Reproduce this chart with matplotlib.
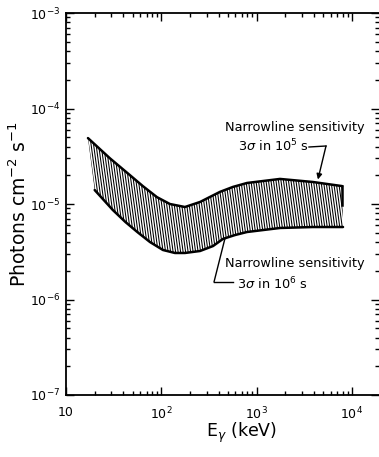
import numpy as np
import matplotlib
matplotlib.use('Agg')
import matplotlib.pyplot as plt
from matplotlib.collections import LineCollection
from matplotlib.lines import Line2D
from matplotlib.ticker import FixedLocator, FixedFormatter, LogLocator, NullFormatter

# ---- data ----
upper_energy = [17, 29, 47, 64, 90, 123, 177, 255, 413, 565, 793, 1760, 3900, 7900]          # keV
upper_flux = [4.9e-5, 3.0e-5, 2.0e-5, 1.54e-5, 1.18e-5, 1.0e-5, 9.3e-6, 1.05e-5,
              1.34e-5, 1.51e-5, 1.66e-5, 1.83e-5, 1.70e-5, 1.54e-5]                           # 3 sigma in 1e5 s
lower_energy = [20, 31, 42, 56, 76, 104, 139, 177, 255, 349, 444, 593, 793, 1760, 3900, 8070]
lower_flux = [1.40e-5, 8.65e-6, 6.48e-6, 5.09e-6, 4.0e-6, 3.30e-6, 3.07e-6, 3.07e-6,
              3.22e-6, 3.63e-6, 4.31e-6, 4.73e-6, 5.09e-6, 5.61e-6, 5.74e-6, 5.74e-6]        # 3 sigma in 1e6 s

x_ticks = [10, 100, 1000, 10000]
x_tick_labels = ['10', r'$10^2$', r'$10^3$', r'$10^4$']
y_ticks = [1e-7, 1e-6, 1e-5, 1e-4, 1e-3]
y_tick_labels = [r'$10^{-7}$', r'$10^{-6}$', r'$10^{-5}$', r'$10^{-4}$', r'$10^{-3}$']

note_title = 'Narrowline sensitivity'
upper_note = r'3$\sigma$ in 10$^5$ s'
lower_note = r'3$\sigma$ in 10$^6$ s'
upper_arrow_energy = 4400
lower_pointer_energy = 466

# ---- figure ----
W, H = 379, 457
fig = plt.figure(figsize=(W / 100, H / 100), dpi=100)
ax = fig.add_axes([66 / W, 1 - 395 / H, (379 - 66) / W, (395 - 13) / H])
ax.set_xscale('log')
ax.set_yscale('log')
ax.set_xlim(10, 10 ** (1 + 313 / 95.3))
ax.set_ylim(1e-7, 1e-3)

def fp(x, y):
    """figure pixel -> figure fraction"""
    return (x / W, 1 - y / H)

# band polygon (invisible) used as a clip path for the hatching
poly = ax.fill(np.r_[upper_energy, lower_energy[::-1]],
               np.r_[upper_flux, lower_flux[::-1]],
               facecolor='none', edgecolor='none')[0]
spacing = 2.5 / 313
offs = np.arange(-0.4, 1.3, spacing)
segs = [[(o, 1.0), (o + 0.165, 0.0)] for o in offs]
lc = LineCollection(segs, transform=ax.transAxes, colors='black', linewidths=0.75,
                    antialiaseds=True)
lc.set_clip_path(poly)
ax.add_collection(lc)

# outlines
ax.plot(upper_energy, upper_flux, color='black', lw=1.8, solid_capstyle='round', solid_joinstyle='round')
ax.plot(lower_energy, lower_flux, color='black', lw=1.8, solid_capstyle='round', solid_joinstyle='round')
edge_bottom = upper_flux[-1] ** 0.54 * lower_flux[-1] ** 0.46
ax.plot([upper_energy[-1], upper_energy[-1]], [upper_flux[-1], edge_bottom], color='black', lw=1.8)

# ticks
ax.xaxis.set_major_locator(FixedLocator(x_ticks))
ax.xaxis.set_major_formatter(FixedFormatter(x_tick_labels))
ax.xaxis.set_minor_locator(LogLocator(base=10, subs=np.arange(2, 10)))
ax.xaxis.set_minor_formatter(NullFormatter())
ax.yaxis.set_major_locator(FixedLocator(y_ticks))
ax.yaxis.set_major_formatter(FixedFormatter(y_tick_labels))
ax.yaxis.set_minor_locator(LogLocator(base=10, subs=np.arange(2, 10)))
ax.yaxis.set_minor_formatter(NullFormatter())
ax.tick_params(which='both', direction='in', top=True, right=True, width=1.0, colors='black')
ax.tick_params(which='major', length=6, labelsize=9)
ax.tick_params(which='minor', length=3)
ax.tick_params(axis='x', which='major', pad=8)
ax.tick_params(axis='y', which='major', pad=4)
for s in ax.spines.values():
    s.set_linewidth(1.3)
ax.spines['right'].set_visible(False)

# axis labels
ax.set_ylabel(r'Photons cm$^{-2}$ s$^{-1}$', fontsize=13.5)
ax.yaxis.label.set_va('center')
ax.yaxis.set_label_coords(-0.148, 0.50)
ax.set_xlabel(r'E$_\gamma$ (keV)', fontsize=12.5)
ax.xaxis.label.set_va('center')
ax.xaxis.set_label_coords(0.562, -0.10)

# annotations
fs = 9.3
fig.text(*fp(225, 127), note_title, fontsize=fs, va='center', ha='left')
fig.text(*fp(238, 146), upper_note, fontsize=fs, va='center', ha='left')
fig.add_artist(Line2D([309 / W, 326 / W], [1 - 147 / H, 1 - 146 / H], color='black', lw=1.0))
up_y = 10 ** np.interp(np.log10(upper_arrow_energy), np.log10(upper_energy), np.log10(upper_flux)) * 1.08
ax.annotate('', xy=(upper_arrow_energy, up_y), xycoords='data',
            xytext=fp(326, 146), textcoords='figure fraction',
            arrowprops=dict(arrowstyle='-|>', color='black', lw=1.0,
                            mutation_scale=8, shrinkA=0, shrinkB=0))

fig.text(*fp(225, 264), note_title, fontsize=fs, va='center', ha='left')
fig.text(*fp(237, 284), lower_note, fontsize=fs, va='center', ha='left')
lo_y = 10 ** np.interp(np.log10(lower_pointer_energy), np.log10(lower_energy), np.log10(lower_flux))
ax.annotate('', xy=(lower_pointer_energy, lo_y), xycoords='data',
            xytext=fp(214, 282), textcoords='figure fraction',
            arrowprops=dict(arrowstyle='-', color='black', lw=1.0, shrinkA=0, shrinkB=0))
fig.add_artist(Line2D([214 / W, 233 / W], [1 - 282 / H, 1 - 282 / H], color='black', lw=1.0))

fig.savefig('out.png', dpi=100)
